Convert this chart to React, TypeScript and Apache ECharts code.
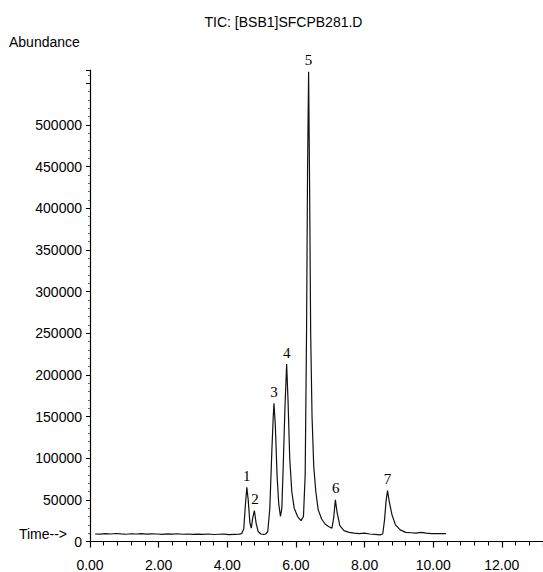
import React, { useEffect, useRef } from "react";
import * as echarts from "echarts";

const times = [
  0.15, 0.3, 0.45, 0.6, 0.75, 0.9, 1.05, 1.2, 1.35, 1.5, 1.65, 1.8, 1.95, 2.1, 2.25, 2.4, 2.55, 2.7, 2.85, 3.0,
  3.15, 3.3, 3.45, 3.6, 3.75, 3.9, 4.05, 4.2, 4.35, 4.42, 4.48, 4.53, 4.57, 4.61, 4.66, 4.7, 4.74, 4.79, 4.84, 4.9,
  4.98, 5.06, 5.12, 5.18, 5.24, 5.3, 5.34, 5.36, 5.4, 5.45, 5.5, 5.55, 5.59, 5.63, 5.68, 5.73, 5.77, 5.82, 5.88, 5.95,
  6.05, 6.15, 6.22, 6.27, 6.31, 6.34, 6.37, 6.4, 6.43, 6.47, 6.52, 6.58, 6.65, 6.75, 6.85, 6.95, 7.05, 7.1, 7.15, 7.2,
  7.28, 7.4, 7.55, 7.7, 7.85, 8.0, 8.15, 8.3, 8.45, 8.53, 8.58, 8.63, 8.67, 8.72, 8.8, 8.9, 9.04, 9.2, 9.35, 9.5,
  9.65, 9.8, 9.95, 10.1, 10.25, 10.37,
];
const abundance = [
  9000, 8800, 9400, 9000, 9600, 9100, 8700, 9300, 9000, 9500, 8800, 9200, 9000, 8600, 9100, 8900, 9300, 8700, 9000, 8500,
  8900, 8600, 9000, 8400, 8700, 8900, 8300, 8600, 8800, 9500, 15000, 45000, 65000, 50000, 22000, 16000, 28000, 37000, 22000, 12000,
  9000, 8500, 9000, 12000, 40000, 110000, 150000, 166000, 140000, 80000, 45000, 30000, 40000, 90000, 160000, 213000, 170000, 100000, 60000, 40000,
  30000, 25000, 30000, 80000, 250000, 450000, 564000, 420000, 250000, 150000, 90000, 60000, 38000, 27000, 21000, 18000, 16000, 28000, 50000, 35000,
  19000, 13000, 11000, 10000, 9500, 10000, 9000, 8500, 8000, 9000, 25000, 50000, 61000, 48000, 32000, 20000, 14000, 11000, 10500, 10000,
  11000, 10000, 9500, 9500, 9500, 9500,
];

const peakLabels = ["1", "2", "3", "4", "5", "6", "7"];
const peakTimes = [4.57, 4.81, 5.36, 5.73, 6.37, 7.16, 8.67];
const peakHeights = [65000, 37000, 166000, 213000, 564000, 50000, 61000];

const xTicks = [0, 2, 4, 6, 8, 10, 12];
const yTicks = [0, 50000, 100000, 150000, 200000, 250000, 300000, 350000, 400000, 450000, 500000];

const FONT = "'Liberation Sans', Arial, sans-serif";
const SERIF = "'Liberation Serif', 'Times New Roman', serif";

export default function App() {
  const ref = useRef<HTMLDivElement>(null);
  useEffect(() => {
    if (!ref.current) return;
    const chart = echarts.init(ref.current, null, { renderer: "svg" });
    const lineData = times.map((t, i) => [t, abundance[i]]);
    const peakData = peakTimes.map((t, i) => ({ value: [t, peakHeights[i]], name: peakLabels[i] }));
    chart.setOption({
      animation: false,
      backgroundColor: "#ffffff",
      color: ["#111111", "#000000"],
      grid: { left: 90, right: 0, top: 70, bottom: 30.5, containLabel: false },
      graphic: [
        {
          type: "text",
          x: 283.5,
          y: 22,
          style: { text: "TIC: [BSB1]SFCPB281.D", font: `14px ${FONT}`, fill: "#000", textAlign: "center", textVerticalAlign: "middle" },
        },
        {
          type: "text",
          x: 9,
          y: 42,
          style: { text: "Abundance", font: `14px ${FONT}`, fill: "#000", textAlign: "left", textVerticalAlign: "middle" },
        },
        {
          type: "text",
          x: 67,
          y: 534,
          style: { text: "Time-->", font: `14px ${FONT}`, fill: "#000", textAlign: "right", textVerticalAlign: "middle" },
        },
      ],
      xAxis: {
        type: "value",
        min: 0,
        max: 13.2,
        interval: 2,
        splitLine: { show: false },
        axisLine: { show: true, onZero: false, lineStyle: { color: "#000", width: 1.2 } },
        axisTick: { show: true, length: 6, lineStyle: { color: "#000", width: 1.2 } },
        minorTick: { show: true, splitNumber: 5, length: 4, lineStyle: { color: "#000", width: 1 } },
        axisLabel: {
          margin: 16,
          color: "#000",
          fontSize: 14,
          fontFamily: FONT,
          customValues: xTicks,
          formatter: (v: number) => v.toFixed(2),
        },
      },
      yAxis: {
        type: "value",
        min: 0,
        max: 566000,
        interval: 50000,
        splitLine: { show: false },
        axisLine: { show: true, lineStyle: { color: "#000", width: 1.2 } },
        axisTick: { show: true, length: 4, lineStyle: { color: "#000", width: 1 } },
        minorTick: { show: true, splitNumber: 5, length: 2, lineStyle: { color: "#444", width: 0.8 } },
        axisLabel: {
          margin: 8,
          color: "#000",
          fontSize: 14,
          fontFamily: FONT,
          customValues: yTicks,
          formatter: (v: number) => String(v),
        },
      },
      series: [
        {
          type: "line",
          data: lineData,
          showSymbol: false,
          symbol: "none",
          lineStyle: { color: "#111", width: 1.2 },
          z: 3,
        },
        {
          type: "scatter",
          data: peakData,
          symbolSize: 0,
          itemStyle: { color: "#000000", opacity: 1 },
          label: {
            show: true,
            position: "top",
            distance: 4,
            formatter: (p: any) => `{n|${p.name}}`,
            rich: { n: { color: "#000000", fontSize: 15, fontFamily: SERIF } },
            color: "#000000",
            fontSize: 15,
            fontFamily: SERIF,
          },
          z: 4,
        },
      ],
    });
    return () => chart.dispose();
  }, []);
  return <div ref={ref} style={{ width: 543, height: 572, position: "absolute", left: 0, top: 0 }} />;
}
